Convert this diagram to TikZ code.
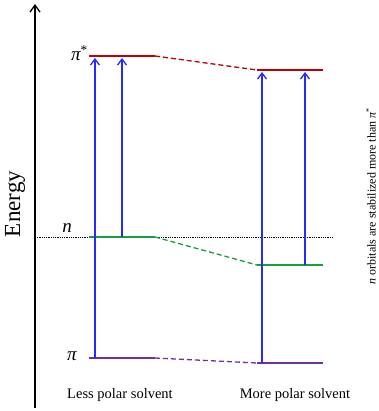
\documentclass[tikz,border=0pt]{standalone}
\usepackage{fontspec}
\setmainfont{Liberation Serif}
\usetikzlibrary{arrows.meta, positioning}
\definecolor{pistarred}{RGB}{192,0,0}
\definecolor{nongreen}{RGB}{20,160,60}
\definecolor{pipurple}{RGB}{112,48,160}
\definecolor{excblue}{RGB}{40,40,255}

\begin{document}
\begin{tikzpicture}[
    x=1pt, y=-1pt,
    level/.style={line width=2.6pt},
    link/.style={line width=1.3pt, dash pattern=on 5pt off 3pt},
    excite/.style={draw=excblue, line width=1.3pt, shorten >=2pt, -{Straight Barb[length=6pt, width=9pt, line width=1.3pt]}},
    orblabel/.style={font=\fontsize{19}{21}\selectfont\itshape, inner sep=0pt},
    solvent/.style={font=\fontsize{14.5}{17}\selectfont, inner sep=0pt}
]
   \useasboundingbox (0,0) rectangle (378,411);

   % Energy axis
   \coordinate (axbot) at (35,408);
   \coordinate (axtop) at (35,4);
   \draw[line width=1.3pt, -{Straight Barb[length=7pt, width=10pt, line width=1.3pt]}] (axbot) -- (axtop);
   \node[rotate=90, font=\fontsize{23}{26}\selectfont, inner sep=0pt] (energy) at (15,204) {Energy};

   % Level end points
   \coordinate (ps1w) at (89,56);   \coordinate (ps1e) at (155,56);
   \coordinate (ps2w) at (257,70);  \coordinate (ps2e) at (323,70);
   \coordinate (n1w)  at (89,237);  \coordinate (n1e)  at (155,237);
   \coordinate (n2w)  at (257,265); \coordinate (n2e)  at (323,265);
   \coordinate (p1w)  at (89,358);  \coordinate (p1e)  at (155,358);
   \coordinate (p2w)  at (257,363); \coordinate (p2e)  at (323,363);

   % Reference line at the n level
   \coordinate (refw) at (35,237);
   \coordinate (refe) at (333,237);
   \draw[densely dotted, line width=0.8pt] (refw) -- (refe);

   % Levels
   \draw[level, pistarred] (ps1w) -- (ps1e);
   \draw[level, pistarred] (ps2w) -- (ps2e);
   \draw[level, nongreen]  (n1w) -- (n1e);
   \draw[level, nongreen]  (n2w) -- (n2e);
   \draw[level, pipurple]  (p1w) -- (p1e);
   \draw[level, pipurple]  (p2w) -- (p2e);

   % Shifts between the two solvents
   \draw[link, pistarred] (ps1e) -- (ps2w);
   \draw[link, nongreen]  (n1e) -- (n2w);
   \draw[link, pipurple]  (p1e) -- (p2w);

   % Transitions
   \coordinate (t1) at (95,358);
   \coordinate (t2) at (122,237);
   \coordinate (t3) at (262,363);
   \coordinate (t4) at (305,265);
   \draw[excite] (t1) -- (t1 |- ps1w);
   \draw[excite] (t2) -- (t2 |- ps1w);
   \draw[excite] (t3) -- (t3 |- ps2w);
   \draw[excite] (t4) -- (t4 |- ps2w);

   % Labels
   \node[orblabel, anchor=east] (lpistar) at (88,53) {π\textsuperscript{\upshape *}};
   \node[orblabel] (ln) at (67,228) {n};
   \node[orblabel] (lpi) at (72,356) {π};
   \node[solvent] (less) at (120,395) {Less polar solvent};
   \node[solvent] (more) at (295,395) {More polar solvent};
   \node[rotate=90, font=\fontsize{12}{14}\selectfont, inner sep=0pt] (note) at (371,196) {\textit{n} orbitals are stabilized more than \textit{π}\textsuperscript{*}};
\end{tikzpicture}
\end{document}
